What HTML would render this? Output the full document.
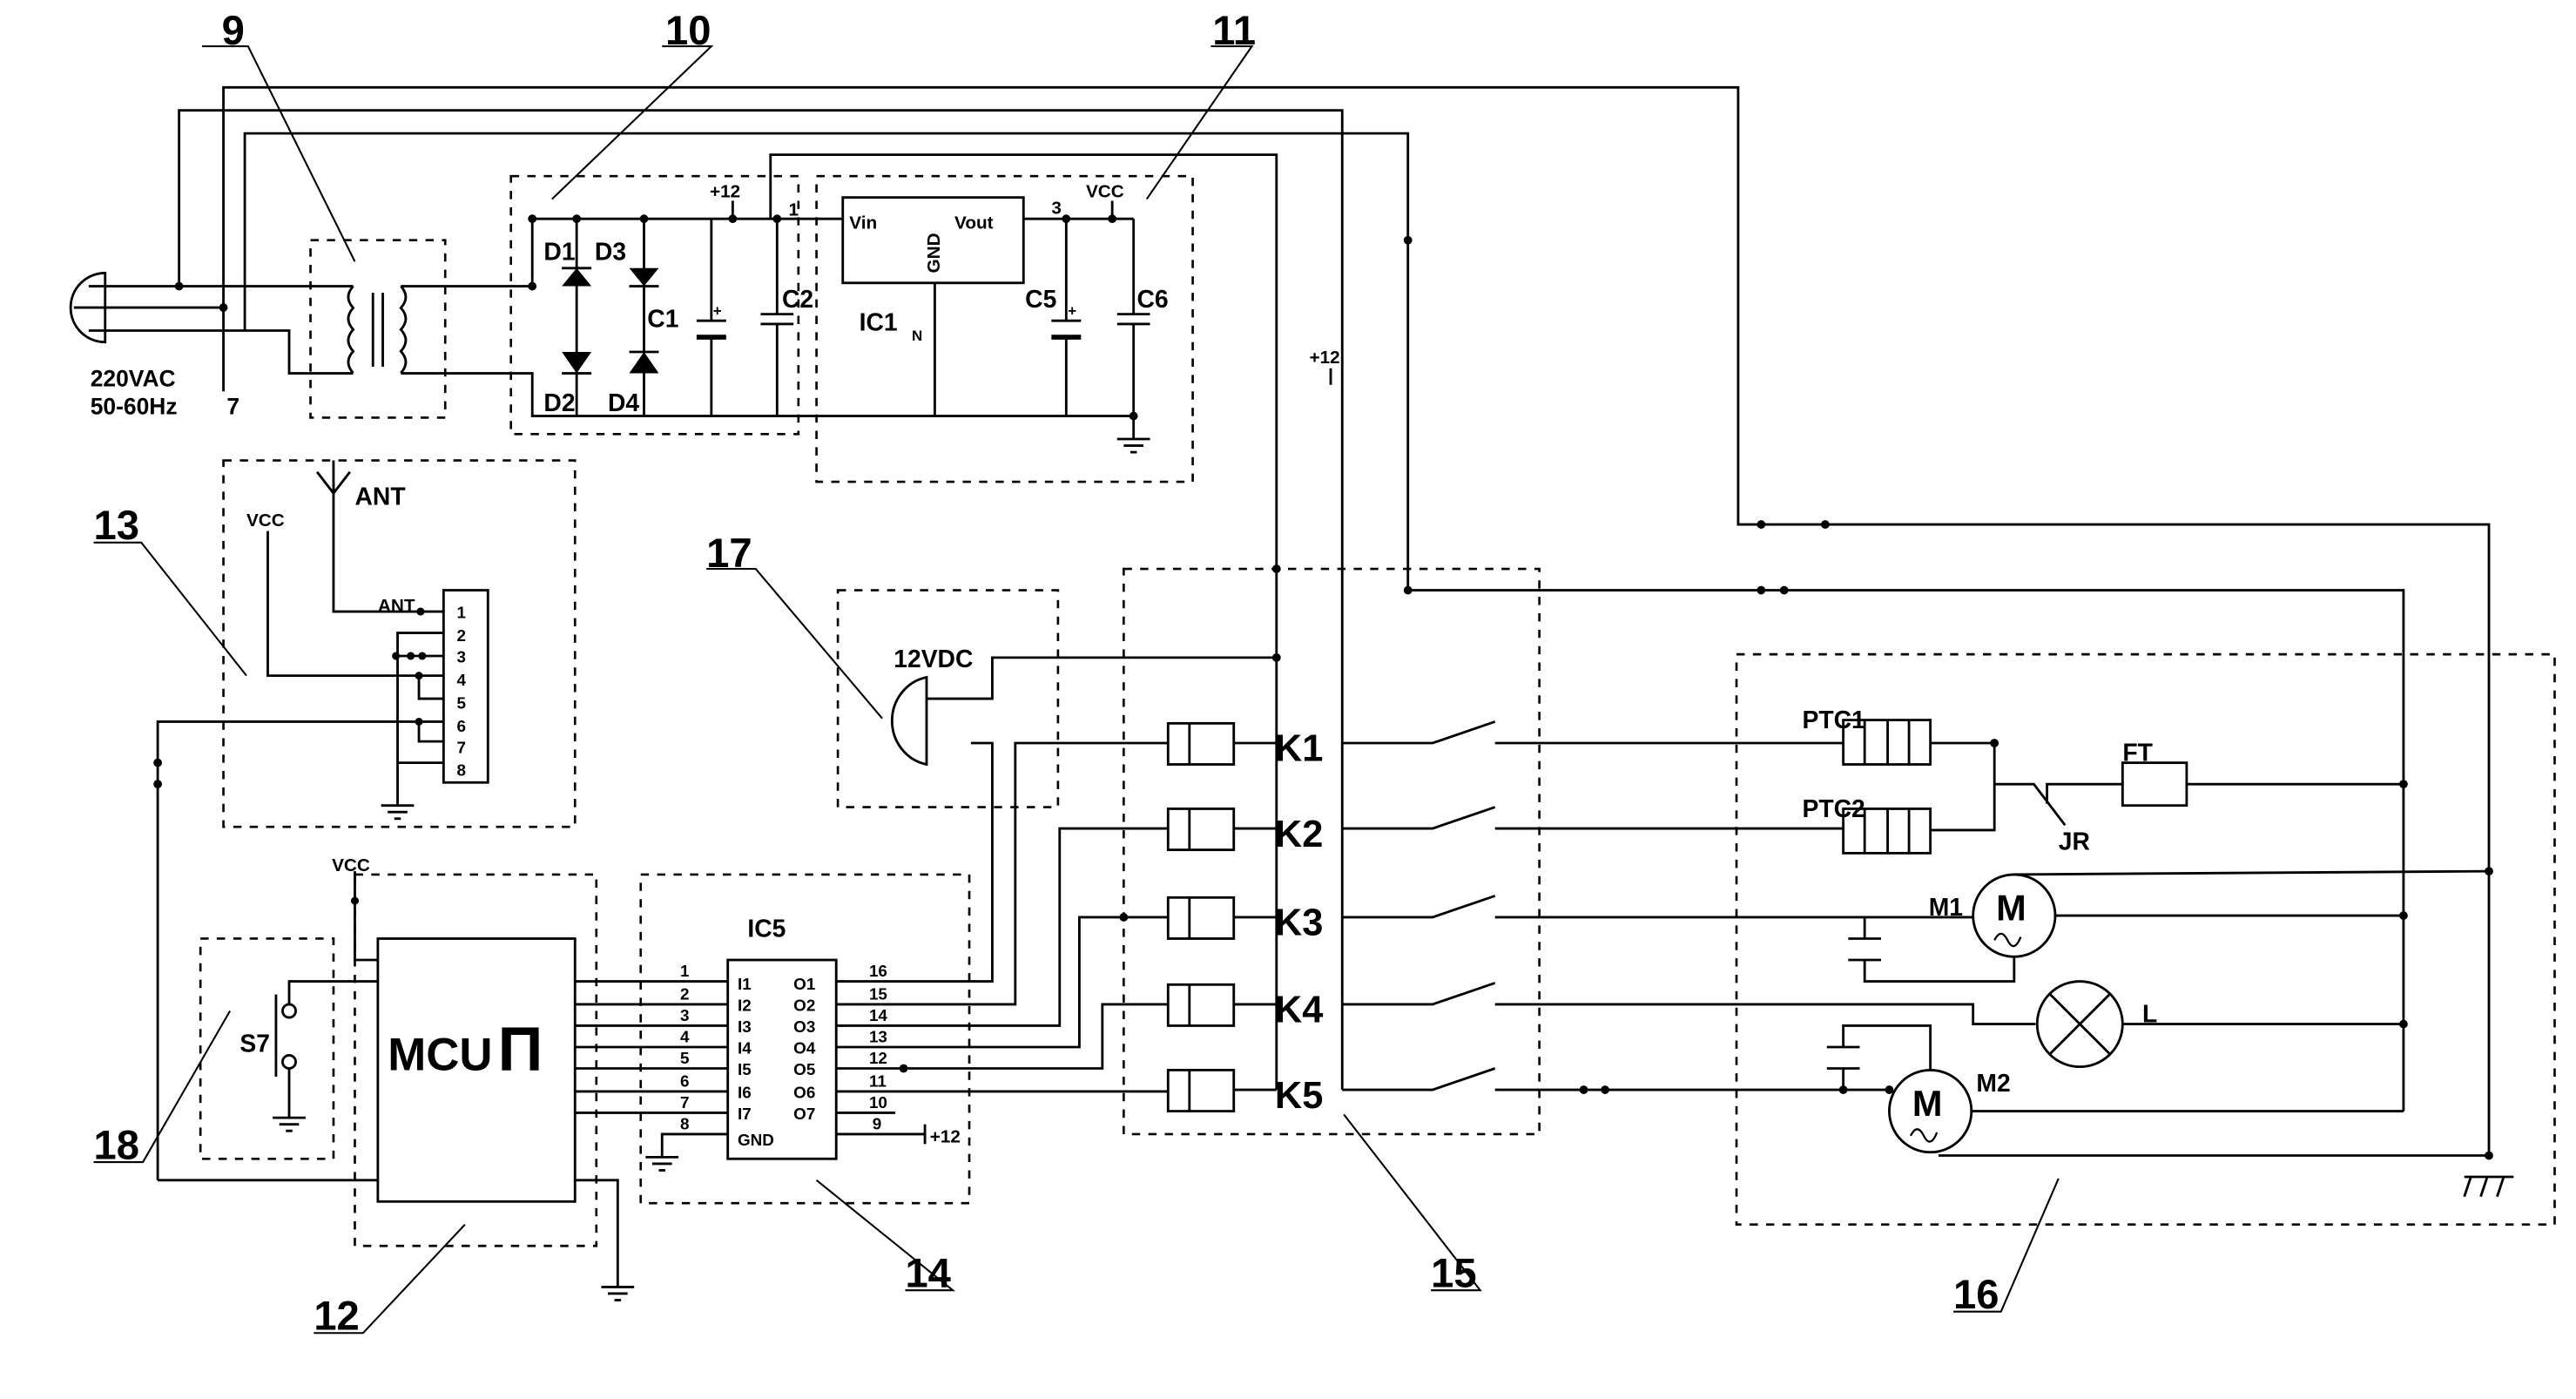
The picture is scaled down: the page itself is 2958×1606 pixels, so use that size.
<!DOCTYPE html>
<html><head><meta charset="utf-8"><style>
html,body{margin:0;padding:0;background:#fff;}
svg{display:block;}
text{font-family:"Liberation Sans",sans-serif;font-weight:bold;fill:#000;}
</style></head><body>
<svg width="2958" height="1606" viewBox="0 0 1568 851" xmlns="http://www.w3.org/2000/svg">
<g fill="none" stroke="#000" stroke-width="1.5">
<!-- top wires -->
<polyline points="136,238 136,53 1058,53 1058,319 1515,319 1515,703"/>
<polyline points="109,174 109,67 817,67 817,663"/>
<polyline points="149,201 149,81 857,81 857,359 1463,359 1463,676"/>
<polyline points="469,133 469,94 777,94 777,663"/>
<!-- plug -->
<path d="M64,166 A21,21 0 0 0 64,208 Z"/>
<line x1="45" y1="187" x2="136" y2="187"/>
<line x1="54" y1="174" x2="215" y2="174"/>
<polyline points="54,201 176,201 176,227 215,227"/>
<!-- transformer -->
<path d="M215,174 q-6,6.6 0,13.2 q-6,6.6 0,13.2 q-6,6.6 0,13.2 q-6,6.6 0,13.2"/>
<path d="M244,174 q6,6.6 0,13.2 q6,6.6 0,13.2 q6,6.6 0,13.2 q6,6.6 0,13.2"/>
<line x1="227" y1="178" x2="227" y2="223"/><line x1="233" y1="178" x2="233" y2="223"/>
<line x1="244" y1="174" x2="324" y2="174"/>
<polyline points="244,227 324,227 324,253 690,253"/>
<!-- bridge -->
<polyline points="324,174 324,133 690,133"/>
<line x1="351" y1="133" x2="351" y2="253"/>
<line x1="392" y1="133" x2="392" y2="253"/>
<line x1="433" y1="133" x2="433" y2="195"/><line x1="433" y1="205" x2="433" y2="253"/>
<line x1="473" y1="133" x2="473" y2="191"/><line x1="473" y1="197" x2="473" y2="253"/>
<line x1="424" y1="195" x2="442" y2="195"/><line x1="424" y1="205" x2="442" y2="205" stroke-width="3"/>
<line x1="463" y1="191" x2="483" y2="191"/><line x1="463" y1="197" x2="483" y2="197"/>
<!-- diode bars -->
<line x1="342" y1="163" x2="360" y2="163"/>
<line x1="342" y1="227" x2="360" y2="227"/>
<line x1="383" y1="174" x2="401" y2="174"/>
<line x1="383" y1="214" x2="401" y2="214"/>
<!-- regulator -->
<rect x="513" y="120" width="110" height="52" fill="#fff"/>
<line x1="569" y1="172" x2="569" y2="253"/>
<line x1="649" y1="133" x2="649" y2="195"/><line x1="649" y1="205" x2="649" y2="253"/>
<line x1="640" y1="195" x2="658" y2="195"/><line x1="640" y1="205" x2="658" y2="205" stroke-width="3"/>
<line x1="690" y1="133" x2="690" y2="191"/><line x1="690" y1="197" x2="690" y2="267"/>
<line x1="680" y1="191" x2="700" y2="191"/><line x1="680" y1="197" x2="700" y2="197"/>
<line x1="680" y1="267" x2="700" y2="267"/><line x1="684" y1="271" x2="696" y2="271"/><line x1="688" y1="275" x2="692" y2="275"/>
<line x1="446" y1="122" x2="446" y2="133"/><line x1="677" y1="122" x2="677" y2="133"/>
<line x1="810" y1="224" x2="810" y2="234"/>
<!-- dashed boxes -->
<g stroke-dasharray="5,5" stroke-width="1.4">
<rect x="189" y="146" width="82" height="108"/>
<rect x="311" y="107" width="175" height="157"/>
<rect x="497" y="107" width="229" height="186"/>
<rect x="136" y="280" width="214" height="223"/>
<rect x="510" y="359" width="134" height="132"/>
<rect x="684" y="346" width="253" height="344"/>
<rect x="1057" y="398" width="498" height="347"/>
<rect x="122" y="571" width="81" height="134"/>
<rect x="216" y="532" width="147" height="226"/>
<rect x="390" y="532" width="200" height="200"/>
</g>
<!-- box 13 -->
<polyline points="203,294 203,372 270,372"/>
<line x1="193" y1="287" x2="203" y2="300"/><line x1="213" y1="287" x2="203" y2="300"/><line x1="203" y1="280" x2="203" y2="300"/>
<polyline points="163,323 163,411 270,411"/>
<rect x="270" y="359" width="27" height="117"/>
<polyline points="270,385 242,385 242,490"/>
<line x1="242" y1="399" x2="270" y2="399"/>
<polyline points="255,411 255,425 270,425"/>
<polyline points="96,718 96,439 270,439"/>
<polyline points="255,439 255,451 270,451"/>
<line x1="242" y1="464" x2="270" y2="464"/>
<line x1="232" y1="490" x2="252" y2="490"/><line x1="236" y1="494" x2="248" y2="494"/><line x1="240" y1="498" x2="244" y2="498"/>
<!-- MCU -->
<rect x="230" y="571" width="120" height="160"/>
<polyline points="216,530 216,584 230,584"/>
<polyline points="96,718 230,718"/>
<polyline points="350,718 376,718 376,783"/>
<line x1="366" y1="783" x2="386" y2="783"/><line x1="370" y1="787" x2="382" y2="787"/><line x1="374" y1="791" x2="378" y2="791"/>
<!-- S7 -->
<polyline points="230,597 176,597 176,611"/>
<circle cx="176" cy="615" r="4"/><circle cx="176" cy="646" r="4"/>
<line x1="168" y1="605" x2="168" y2="655"/>
<line x1="176" y1="650" x2="176" y2="680"/>
<line x1="166" y1="680" x2="186" y2="680"/><line x1="170" y1="684" x2="182" y2="684"/><line x1="174" y1="688" x2="178" y2="688"/>
<!-- IC5 -->
<rect x="443" y="584" width="66" height="121"/>
<line x1="350" y1="597" x2="443" y2="597"/><line x1="350" y1="611" x2="443" y2="611"/>
<line x1="350" y1="624" x2="443" y2="624"/><line x1="350" y1="637" x2="443" y2="637"/>
<line x1="350" y1="650" x2="443" y2="650"/><line x1="350" y1="664" x2="443" y2="664"/>
<line x1="350" y1="677" x2="443" y2="677"/>
<polyline points="443,690 403,690 403,704"/>
<line x1="393" y1="704" x2="413" y2="704"/><line x1="397" y1="708" x2="409" y2="708"/><line x1="401" y1="712" x2="405" y2="712"/>
<line x1="509" y1="690" x2="563" y2="690"/><line x1="563" y1="684" x2="563" y2="696"/>
<line x1="509" y1="677" x2="545" y2="677"/>
<polyline points="509,597 604,597 604,452 591,452"/>
<polyline points="509,611 618,611 618,452 711,452"/>
<polyline points="509,624 645,624 645,504 711,504"/>
<polyline points="509,637 657,637 657,558 711,558"/>
<polyline points="509,650 671,650 671,611 711,611"/>
<polyline points="509,664 711,664"/>
<!-- buzzer -->
<path d="M564,412 A26,27 0 0 0 564,465 Z"/>
<polyline points="564,425 604,425 604,400 777,400"/>
<!-- relays -->
<g>
<rect x="711" y="440" width="40" height="25"/><line x1="724" y1="440" x2="724" y2="465"/><line x1="751" y1="452" x2="777" y2="452"/>
<rect x="711" y="492" width="40" height="25"/><line x1="724" y1="492" x2="724" y2="517"/><line x1="751" y1="504" x2="777" y2="504"/>
<rect x="711" y="546" width="40" height="25"/><line x1="724" y1="546" x2="724" y2="571"/><line x1="751" y1="558" x2="777" y2="558"/>
<rect x="711" y="599" width="40" height="25"/><line x1="724" y1="599" x2="724" y2="624"/><line x1="751" y1="611" x2="777" y2="611"/>
<rect x="711" y="651" width="40" height="25"/><line x1="724" y1="651" x2="724" y2="676"/><line x1="751" y1="663" x2="777" y2="663"/>
</g>
<polyline points="817,452 872,452 910,439"/><line x1="910" y1="452" x2="1122" y2="452"/>
<polyline points="817,504 872,504 910,491"/><line x1="910" y1="504" x2="1122" y2="504"/>
<polyline points="817,558 872,558 910,545"/><line x1="910" y1="558" x2="1201" y2="558"/>
<polyline points="817,611 872,611 910,598"/><polyline points="910,611 1201,611 1201,623 1239,623"/>
<polyline points="817,663 872,663 910,650"/><line x1="910" y1="663" x2="1150" y2="663"/>
<!-- load area -->
<rect x="1122" y="438" width="53" height="27"/><line x1="1135" y1="438" x2="1135" y2="465"/><line x1="1149" y1="438" x2="1149" y2="465"/><line x1="1162" y1="438" x2="1162" y2="465"/>
<rect x="1122" y="492" width="53" height="27"/><line x1="1135" y1="492" x2="1135" y2="519"/><line x1="1149" y1="492" x2="1149" y2="519"/><line x1="1162" y1="492" x2="1162" y2="519"/>
<polyline points="1175,452 1214,452 1214,505 1175,505"/>
<polyline points="1214,477 1238,477 1257,502"/><polyline points="1246,489 1246,477 1292,477"/>
<rect x="1292" y="464" width="39" height="26"/>
<line x1="1331" y1="477" x2="1463" y2="477"/>
<circle cx="1226" cy="557" r="25"/>
<line x1="1251" y1="557" x2="1463" y2="557"/>
<line x1="1226" y1="532" x2="1515" y2="530"/>
<polyline points="1135,558 1135,571"/><line x1="1125" y1="571" x2="1145" y2="571"/><line x1="1125" y1="584" x2="1145" y2="584"/>
<polyline points="1135,584 1135,597 1226,597 1226,582"/>
<circle cx="1266" cy="623" r="26"/>
<line x1="1248" y1="605" x2="1284" y2="641"/><line x1="1284" y1="605" x2="1248" y2="641"/>
<line x1="1292" y1="623" x2="1463" y2="623"/>
<circle cx="1175" cy="676" r="25"/>
<polyline points="1122,663 1122,650"/><line x1="1112" y1="650" x2="1132" y2="650"/><line x1="1112" y1="637" x2="1132" y2="637"/>
<polyline points="1122,637 1122,624 1175,624 1175,651"/>
<line x1="1200" y1="676" x2="1463" y2="676"/>
<line x1="1180" y1="703" x2="1515" y2="703"/>
<line x1="1500" y1="716" x2="1530" y2="716"/>
<line x1="1504" y1="716" x2="1500" y2="728"/><line x1="1514" y1="716" x2="1510" y2="728"/><line x1="1524" y1="716" x2="1520" y2="728"/>
<path d="M1214,572 q4,-8 8,0 q4,8 8,-2" stroke-width="1.2"/>
<path d="M1163,691 q4,-8 8,0 q4,8 8,-2" stroke-width="1.2"/>
<!-- leaders -->
<g stroke-width="1.1">
<polyline points="123,28 151,28 216,159"/>
<polyline points="403,28 433,28 336,121"/>
<polyline points="737,28 762,28 698,121"/>
<polyline points="57,330 86,330 150,411"/>
<polyline points="430,346 460,346 537,437"/>
<polyline points="57,707 87,707 140,615"/>
<polyline points="191,811 221,811 283,745"/>
<polyline points="551,785 580,785 497,718"/>
<polyline points="871,785 901,785 818,678"/>
<polyline points="1189,798 1218,798 1253,717"/>
</g>
</g>
<!-- diode triangles -->
<g fill="#000">
<polygon points="351,163 342,174 360,174"/>
<polygon points="351,227 342,214 360,214"/>
<polygon points="392,174 383,163 401,163"/>
<polygon points="392,214 383,227 401,227"/>
</g>
<!-- dots -->
<g fill="#000">
<circle cx="109" cy="174" r="2.6"/><circle cx="136" cy="187" r="2.6"/>
<circle cx="324" cy="174" r="2.6"/><circle cx="324" cy="133" r="2.6"/><circle cx="351" cy="133" r="2.6"/><circle cx="392" cy="133" r="2.6"/>
<circle cx="446" cy="133" r="2.6"/><circle cx="473" cy="133" r="2.6"/><circle cx="649" cy="133" r="2.6"/><circle cx="677" cy="133" r="2.6"/>
<circle cx="690" cy="253" r="2.6"/>
<circle cx="857" cy="146" r="2.6"/><circle cx="857" cy="359" r="2.6"/>
<circle cx="1072" cy="319" r="2.6"/><circle cx="1111" cy="319" r="2.6"/>
<circle cx="1072" cy="359" r="2.6"/><circle cx="1086" cy="359" r="2.6"/>
<circle cx="777" cy="346" r="2.6"/><circle cx="777" cy="400" r="2.6"/>
<circle cx="684" cy="558" r="2.6"/><circle cx="550" cy="650" r="2.6"/>
<circle cx="964" cy="663" r="2.6"/><circle cx="977" cy="663" r="2.6"/>
<circle cx="1214" cy="452" r="2.6"/><circle cx="1463" cy="477" r="2.6"/><circle cx="1463" cy="557" r="2.6"/><circle cx="1463" cy="623" r="2.6"/>
<circle cx="1515" cy="530" r="2.6"/><circle cx="1515" cy="703" r="2.6"/>
<circle cx="1122" cy="663" r="2.6"/><circle cx="1150" cy="663" r="2.6"/>
<circle cx="96" cy="464" r="2.6"/><circle cx="96" cy="477" r="2.6"/>
<circle cx="241" cy="399" r="2.4"/><circle cx="250" cy="399" r="2.4"/><circle cx="257" cy="399" r="2.4"/>
<circle cx="255" cy="411" r="2.4"/><circle cx="255" cy="439" r="2.4"/><circle cx="256" cy="372" r="2.4"/>
<circle cx="216" cy="548" r="2.4"/>
</g>
<!-- text -->
<g font-size="25">
<text x="135" y="27">9</text><text x="405" y="27">10</text><text x="738" y="27">11</text>
<text x="57" y="328">13</text><text x="430" y="345">17</text><text x="57" y="705">18</text>
<text x="191" y="809">12</text><text x="551" y="783">14</text><text x="871" y="783">15</text><text x="1189" y="796">16</text>
</g>
<g font-size="15">
<text x="331" y="158">D1</text><text x="362" y="158">D3</text>
<text x="331" y="250">D2</text><text x="370" y="250">D4</text>
<text x="394" y="199">C1</text><text x="476" y="187">C2</text>
<text x="624" y="187">C5</text><text x="692" y="187">C6</text>
<text x="523" y="201">IC1</text>
<text x="55" y="235" font-size="14">220VAC</text><text x="55" y="252" font-size="14">50-60Hz</text>
<text x="138" y="252" font-size="14" font-weight="normal">7</text>
<text x="216" y="307">ANT</text>
<text x="544" y="406">12VDC</text>
<text x="455" y="570">IC5</text>
<text x="1097" y="443">PTC1</text><text x="1097" y="497">PTC2</text>
<text x="1292" y="463">FT</text><text x="1253" y="517">JR</text>
<text x="1174" y="557">M1</text><text x="1304" y="622">L</text><text x="1203" y="664">M2</text>
</g>
<g font-size="22"><text x="1215" y="560">M</text><text x="1164" y="679">M</text></g>
<g font-size="9"><text x="434" y="192">+</text><text x="650" y="192">+</text></g>
<text x="555" y="207" font-size="9">N</text>
<g font-size="23" font-weight="bold"><text x="776" y="463">K1</text><text x="776" y="515">K2</text><text x="776" y="569">K3</text><text x="776" y="622">K4</text><text x="776" y="674">K5</text></g>
<g font-size="11">
<text x="517" y="139">Vin</text><text x="581" y="139">Vout</text>
<text x="572" y="166" transform="rotate(-90 572 166)">GND</text>
<text x="432" y="120">+12</text><text x="661" y="120">VCC</text>
<text x="480" y="131">1</text><text x="640" y="130">3</text>
<text x="797" y="221">+12</text>
<text x="150" y="320">VCC</text><text x="230" y="372">ANT</text>
<text x="202" y="530">VCC</text>
<text x="146" y="640" font-size="15">S7</text>
<text x="566" y="695">+12</text>
</g>
<g font-size="10">
<text x="278" y="376">1</text><text x="278" y="390">2</text><text x="278" y="403">3</text><text x="278" y="417">4</text><text x="278" y="431">5</text><text x="278" y="445">6</text><text x="278" y="458">7</text><text x="278" y="472">8</text>
<text x="414" y="594">1</text><text x="414" y="608">2</text><text x="414" y="621">3</text><text x="414" y="634">4</text><text x="414" y="647">5</text><text x="414" y="661">6</text><text x="414" y="674">7</text><text x="414" y="687">8</text>
<text x="449" y="602">I1</text><text x="449" y="615">I2</text><text x="449" y="628">I3</text><text x="449" y="641">I4</text><text x="449" y="654">I5</text><text x="449" y="668">I6</text><text x="449" y="681">I7</text>
<text x="449" y="697">GND</text>
<text x="483" y="602">O1</text><text x="483" y="615">O2</text><text x="483" y="628">O3</text><text x="483" y="641">O4</text><text x="483" y="654">O5</text><text x="483" y="668">O6</text><text x="483" y="681">O7</text>
<text x="529" y="594">16</text><text x="529" y="608">15</text><text x="529" y="621">14</text><text x="529" y="634">13</text><text x="529" y="647">12</text><text x="529" y="661">11</text><text x="529" y="674">10</text><text x="531" y="687">9</text>
</g>
<text x="236" y="651" font-size="28" font-weight="bold">MCU</text>
<text x="303" y="651" font-size="38" font-weight="normal" font-family="Liberation Serif">Π</text>
</svg>
</body></html>
